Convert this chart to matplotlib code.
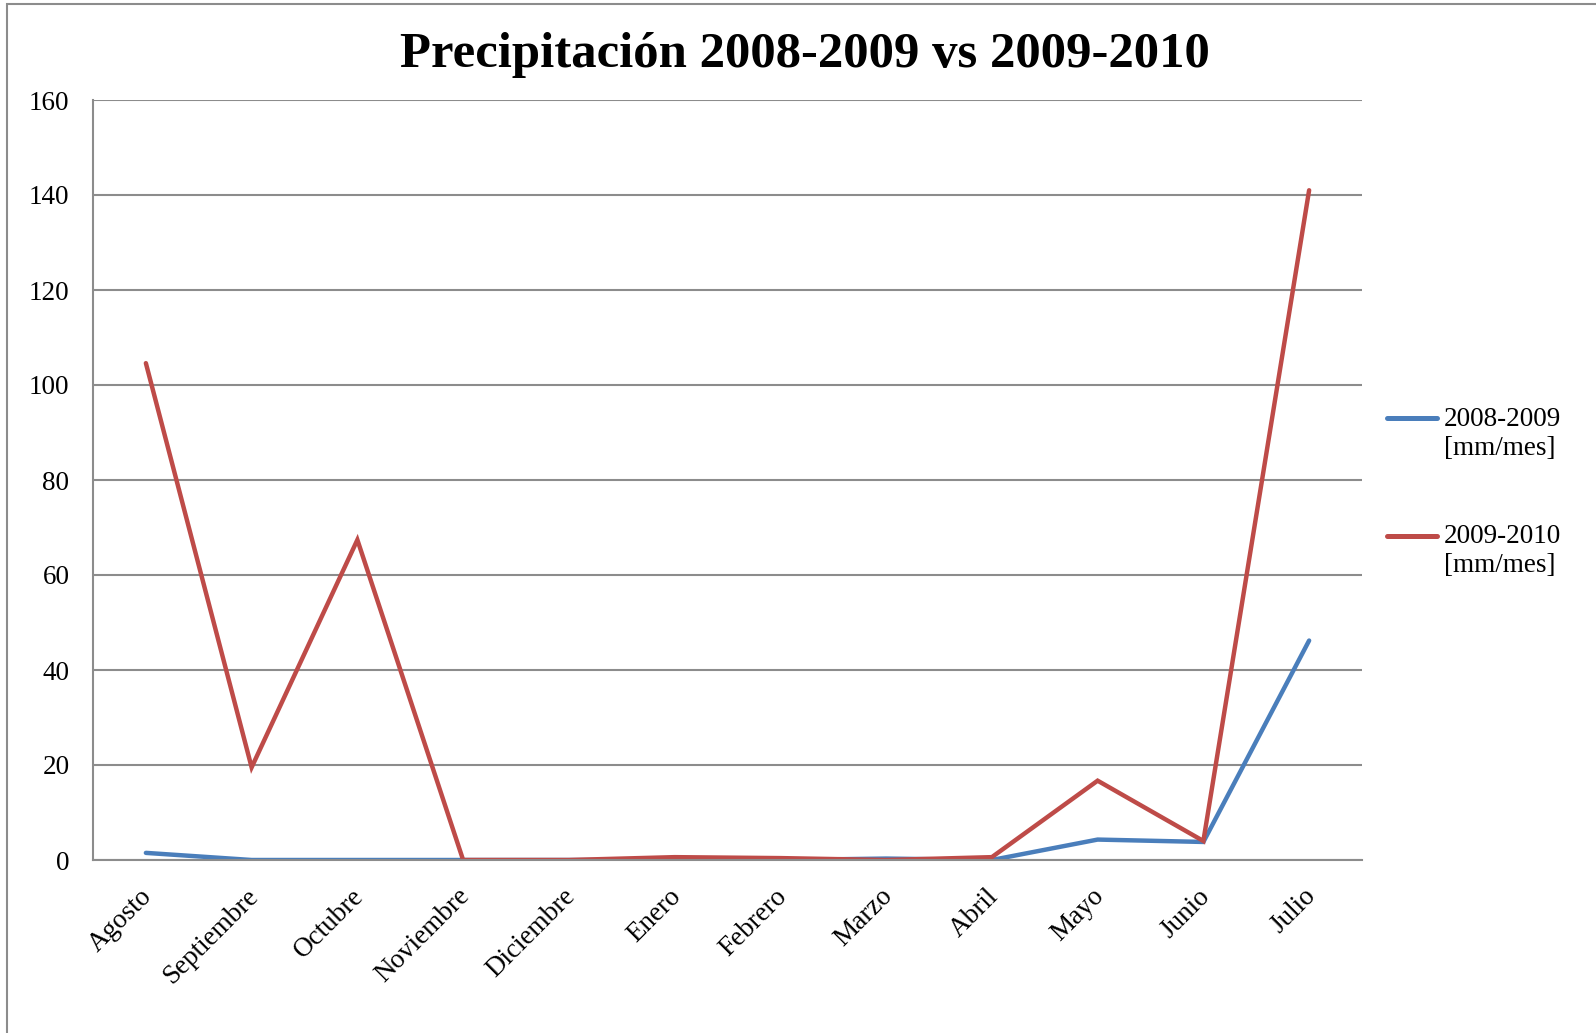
import matplotlib
matplotlib.use("Agg")
import matplotlib.pyplot as plt
from matplotlib.patches import Rectangle
import matplotlib.transforms as mtransforms

months = ["Agosto", "Septiembre", "Octubre", "Noviembre", "Diciembre", "Enero",
          "Febrero", "Marzo", "Abril", "Mayo", "Junio", "Julio"]
p_2008_2009 = [1.5, 0.0, 0.0, 0.0, 0.0, 0.0, 0.0, 0.3, 0.0, 4.3, 3.8, 46.2]
p_2009_2010 = [104.6, 19.5, 67.4, 0.0, 0.0, 0.6, 0.4, 0.0, 0.6, 16.7, 4.0, 141.0]
labels = ["2008-2009\n[mm/mes]", "2009-2010\n[mm/mes]"]
yticks = [0, 20, 40, 60, 80, 100, 120, 140, 160]

plt.rcParams['font.family'] = ['Liberation Serif', 'DejaVu Serif']
FS = 19.5

fig = plt.figure(figsize=(15.96, 10.33), dpi=100)
ax = fig.add_axes([93/1596, 1-860/1033, (1362-93)/1596, (860-100)/1033])

x = list(range(len(months)))
ax.plot(x, p_2008_2009, color="#4A7EBB", lw=3.2, solid_capstyle="round",
        solid_joinstyle="miter", label=labels[0])
ax.plot(x, p_2009_2010, color="#BE4B48", lw=3.2, solid_capstyle="round",
        solid_joinstyle="miter", label=labels[1])

ax.set_xlim(-0.5, len(months) - 0.5)
ax.set_ylim(0, 160)
ax.set_yticks(yticks)
ax.set_yticklabels([str(v) for v in yticks], fontsize=FS)
ax.set_xticks(x)
ax.set_xticklabels(months, rotation=45, ha="right", va="top",
                   rotation_mode="anchor", fontsize=FS)
ax.tick_params(axis="both", length=0)
ax.tick_params(axis="x", pad=17)
ax.tick_params(axis="y", pad=17)
shift = mtransforms.ScaledTranslation(-6/100, 0, fig.dpi_scale_trans)
for lab in ax.get_xticklabels():
    lab.set_transform(lab.get_transform() + shift)
ax.grid(axis="y", color="#8C8C8C", lw=1.5)
ax.set_axisbelow(True)
for s in ["top", "right"]:
    ax.spines[s].set_visible(False)
for s in ["left", "bottom"]:
    ax.spines[s].set_color("#8C8C8C")
    ax.spines[s].set_linewidth(1.5)

fig.text(805/1596, 1-55/1033, "Precipitación 2008-2009 vs 2009-2010",
         ha="center", va="center", fontsize=36.5, fontweight="bold")

leg = fig.legend(loc="upper left", bbox_to_anchor=(1376/1596, 1-396/1033),
                 frameon=False, fontsize=FS, handlelength=1.85,
                 handletextpad=0.25, labelspacing=2.35, borderaxespad=0)
for ln in leg.get_lines():
    ln.set_linewidth(3.6)
    ln.set_solid_capstyle("round")
    yd = ln.get_ydata()
    ln.set_ydata([v + 11 for v in yd])

fig.patches.append(Rectangle((7/1596, -0.1), 1.2, 1.1 - 4/1033,
                             transform=fig.transFigure, fill=False,
                             edgecolor="#8C8C8C", lw=1.5))

fig.savefig("out.png", dpi=100)
